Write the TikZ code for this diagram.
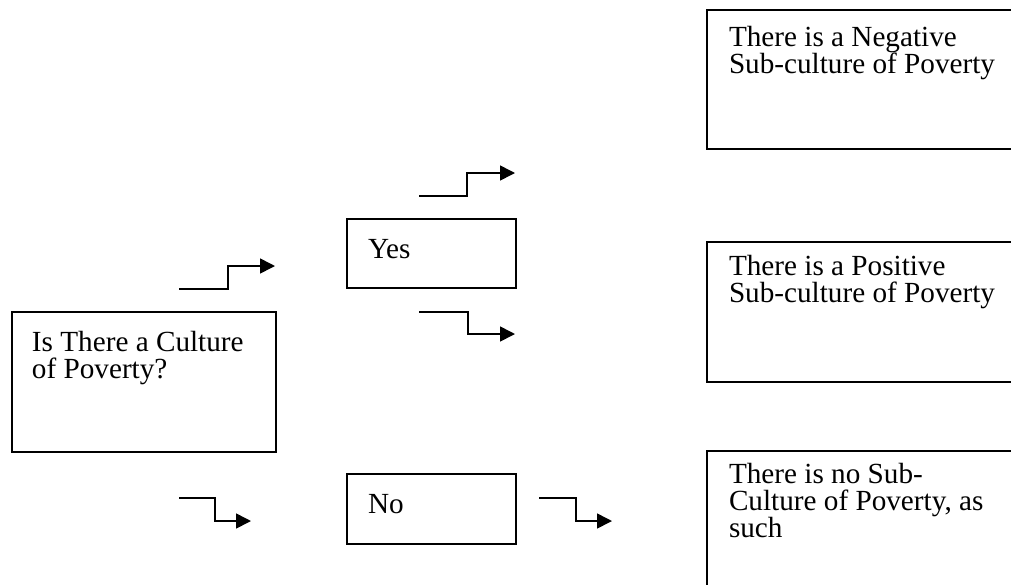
\documentclass[tikz,border=0pt]{standalone}
\usepackage{fontspec}
\setmainfont{Liberation Serif}
\usetikzlibrary{arrows.meta}
\begin{document}
\begin{tikzpicture}[x=0.5pt,y=-0.5pt,
  box/.style={draw,line width=0.9pt,inner sep=0pt,outer sep=0pt,anchor=north west},
  lbl/.style={anchor=base west,inner sep=0pt,outer sep=0pt,font=\fontsize{14.6}{13.5}\selectfont},
  steparrow/.style={line width=0.8pt,-{Triangle[length=7.5pt,width=7.5pt]}}]
\clip (0,0) rectangle (1011,584);
% boxes
\node[box,minimum width=132pt,minimum height=70pt] (q) at (12,312) {};
\node[box,minimum width=84.5pt,minimum height=34.5pt] (yes) at (347,219) {};
\node[box,minimum width=84.5pt,minimum height=35pt] (no) at (347,474) {};
\node[box,minimum width=157pt,minimum height=69.5pt] (neg) at (707,10) {};
\node[box,minimum width=157pt,minimum height=70pt] (pos) at (707,242) {};
\node[box,minimum width=157pt,minimum height=70pt] (none) at (707,451) {};
% texts
\node[lbl] (tq) at (32,351.5) {\vtop{\hbox{Is There a Culture}\hbox{of Poverty?}}};
\node[lbl] (tyes) at (368,258) {Yes};
\node[lbl] (tno) at (368,513) {No};
\node[lbl] (tneg) at (729,46) {\vtop{\hbox{There is a Negative}\hbox{Sub-culture of Poverty}}};
\node[lbl] (tpos) at (729,275) {\vtop{\hbox{There is a Positive}\hbox{Sub-culture of Poverty}}};
\node[lbl] (tnone) at (729,483) {\vtop{\hbox{There is no Sub-}\hbox{Culture of Poverty, as}\hbox{such}}};
% step arrows
\coordinate (a1s) at (179,289); \coordinate (a1e) at (275,266);
\coordinate (a2s) at (419,196); \coordinate (a2e) at (515,173);
\coordinate (a3s) at (419,312); \coordinate (a3e) at (515,334);
\coordinate (a4s) at (179,498); \coordinate (a4e) at (251,521);
\coordinate (a5s) at (539,498); \coordinate (a5e) at (612,521);
\draw[steparrow] (a1s) -- ++(49,0) |- (a1e);
\draw[steparrow] (a2s) -- ++(48,0) |- (a2e);
\draw[steparrow] (a3s) -- ++(49,0) |- (a3e);
\draw[steparrow] (a4s) -- ++(36,0) |- (a4e);
\draw[steparrow] (a5s) -- ++(37,0) |- (a5e);
\end{tikzpicture}
\end{document}
